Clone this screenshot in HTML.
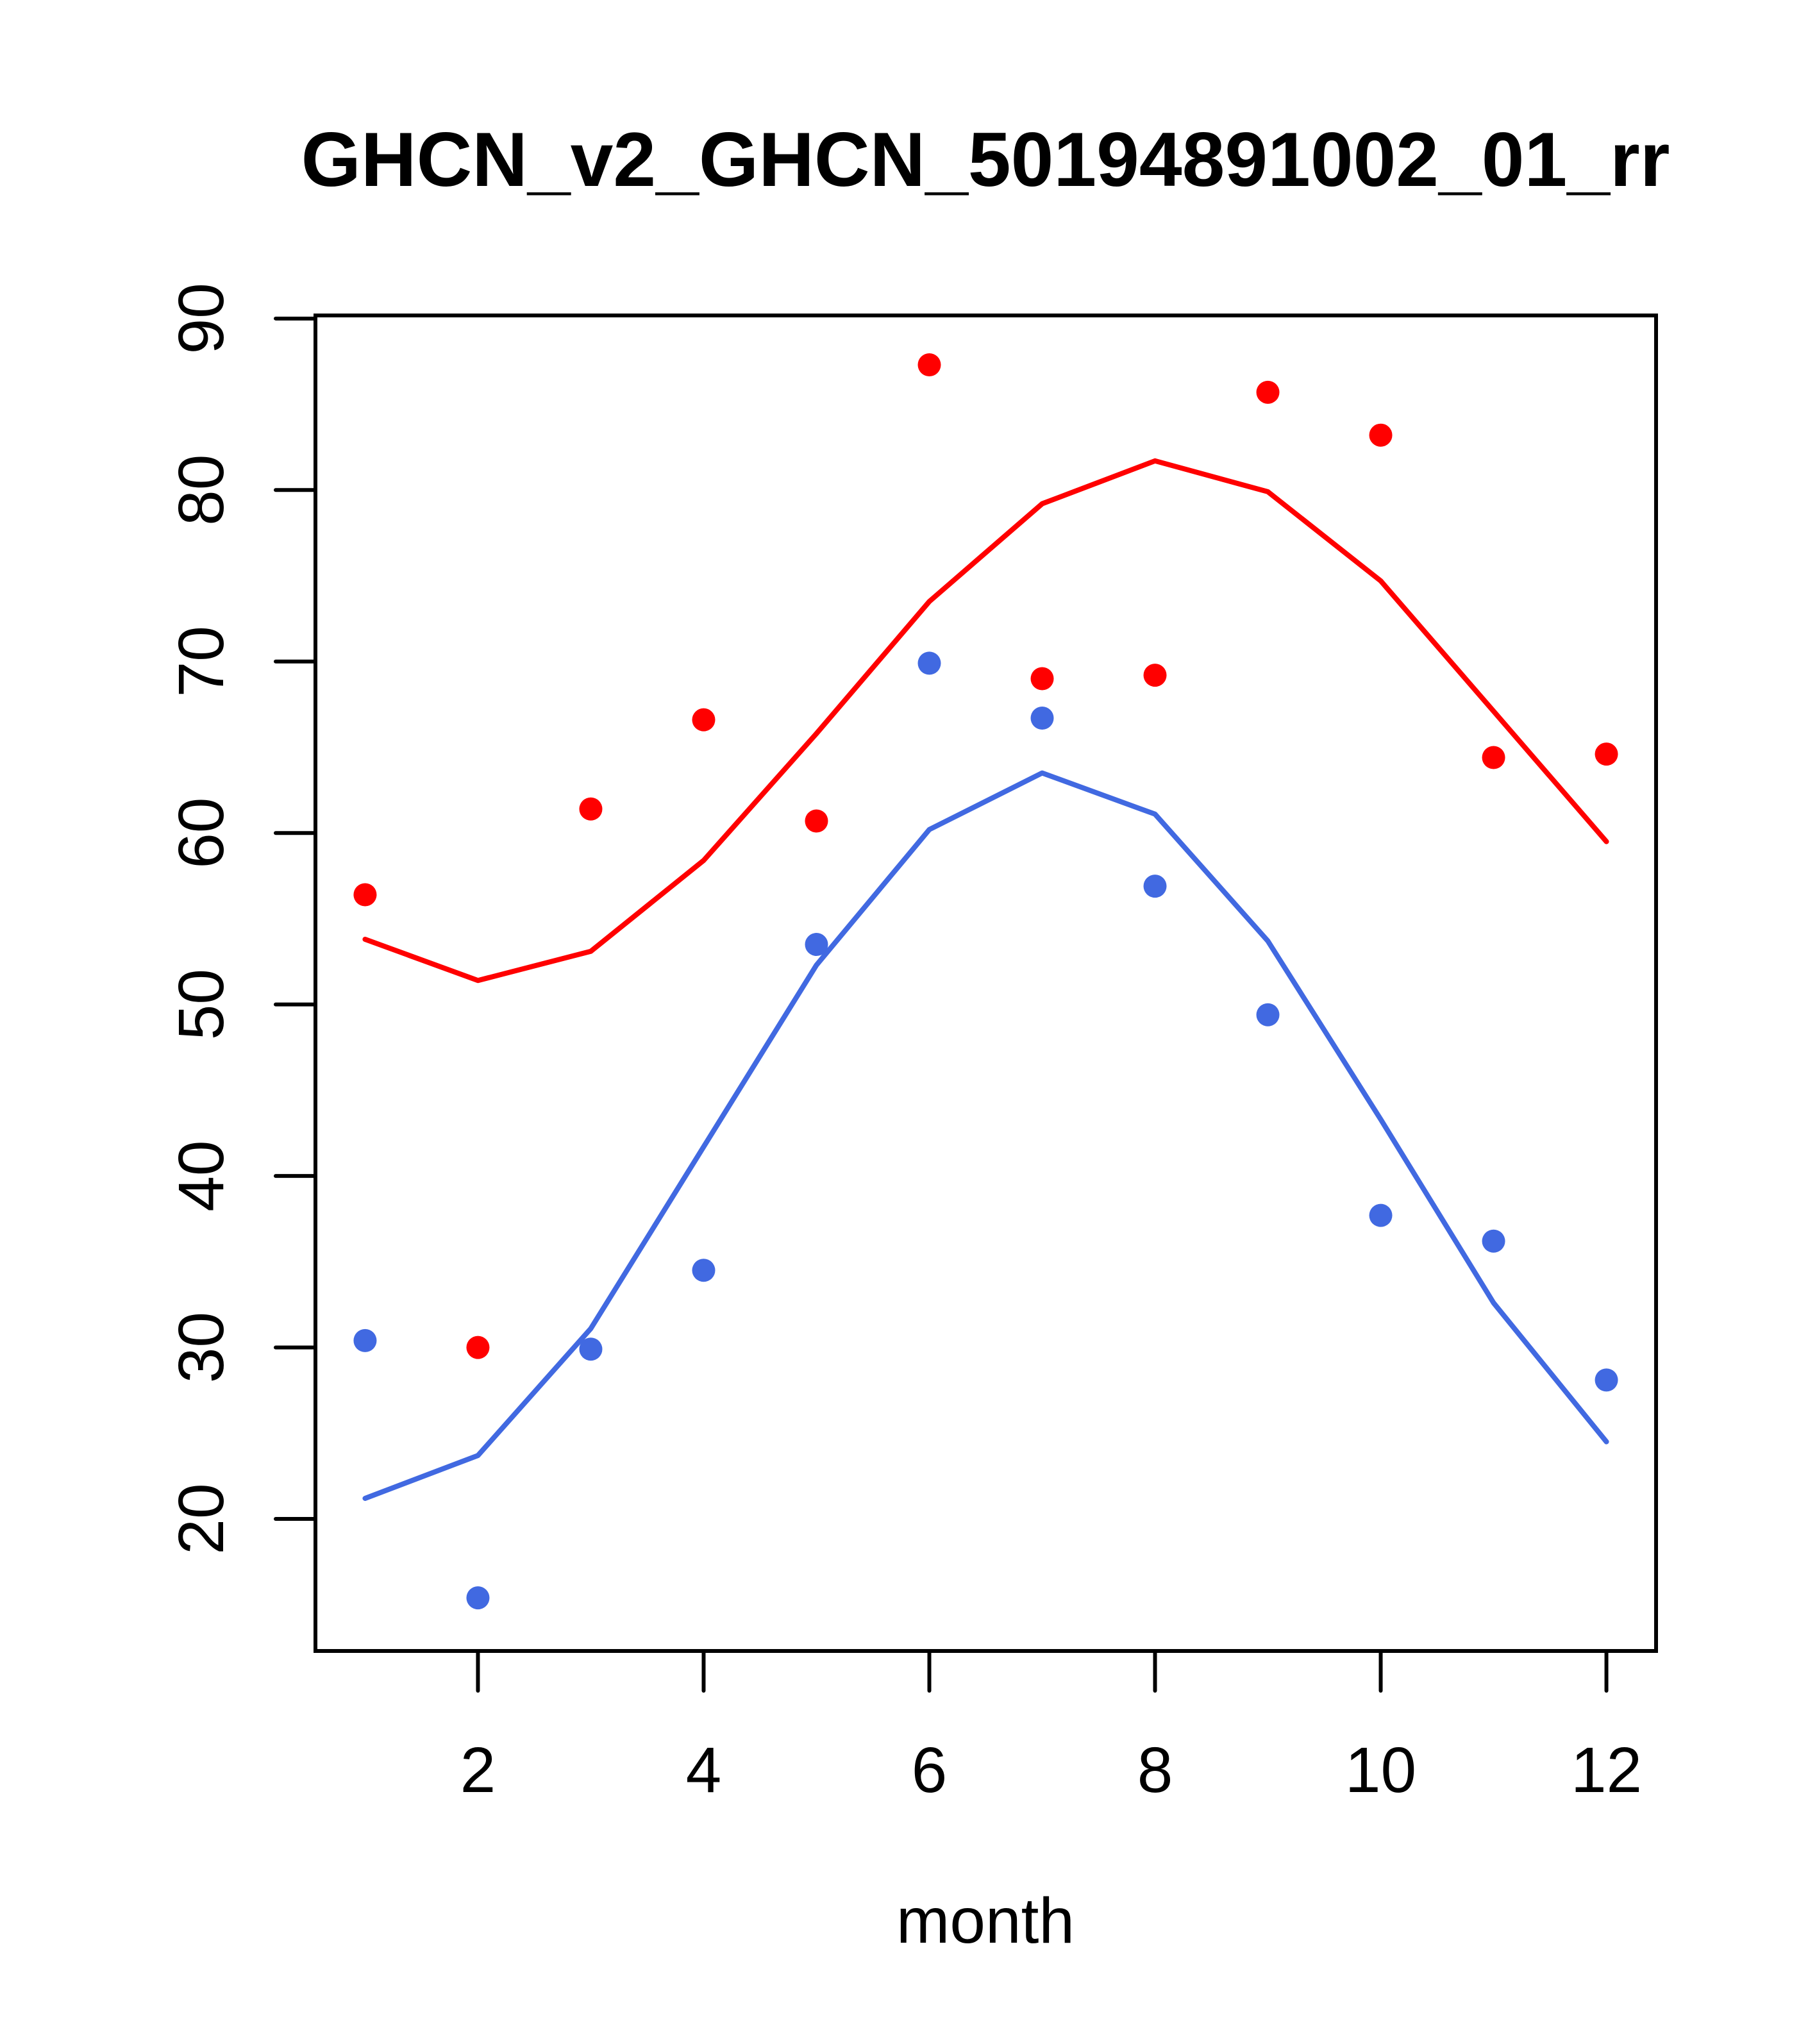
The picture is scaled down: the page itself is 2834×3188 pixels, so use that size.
<!DOCTYPE html>
<html><head><meta charset="utf-8"><style>
html,body{margin:0;padding:0;background:#fff;}
svg{display:block;font-family:"Liberation Sans",Arial,sans-serif;}
</style></head><body>
<svg id="chart" width="2834" height="3188" viewBox="0 0 2834 3188" xmlns="http://www.w3.org/2000/svg">
<rect width="2834" height="3188" fill="#fff"/>
<text x="1537" y="290" text-anchor="middle" font-size="120" font-weight="bold">GHCN_v2_GHCN_50194891002_01_rr</text>
<text x="1537" y="3030" text-anchor="middle" font-size="100">month</text>
<g id="axes"></g>
<g id="series"></g>
<rect x="492" y="492" width="2091" height="2083" fill="none" stroke="#000" stroke-width="6"/>
</svg>
<script>
const months=[1,2,3,4,5,6,7,8,9,10,11,12];
const redPoints=[56.4,30.0,61.4,66.6,60.7,87.3,69.0,69.2,85.7,83.2,64.4,64.6];
const redLine=[53.8,51.4,53.1,58.4,65.8,73.5,79.2,81.7,79.9,74.7,67.1,59.5];
const bluePoints=[30.4,15.4,29.9,34.5,53.5,69.9,66.7,56.9,49.4,37.7,36.2,28.1];
const blueLine=[21.2,23.7,31.1,41.7,52.3,60.2,63.5,61.1,53.7,43.3,32.6,24.5];
const xTicks=[2,4,6,8,10,12];
const yTicks=[20,30,40,50,60,70,80,90];

const NS="http://www.w3.org/2000/svg";
const L=492,R=2583,T=492,B=2575;
const xMin=0.56,xMax=12.44;
const yMin=12.3,yMax=90.18;
const X=v=>L+(v-xMin)/(xMax-xMin)*(R-L);
const Y=v=>B-(v-yMin)/(yMax-yMin)*(B-T);
function mk(tag,attrs,parent){const e=document.createElementNS(NS,tag);for(const k in attrs)e.setAttribute(k,attrs[k]);parent.appendChild(e);return e;}
const axes=document.getElementById('axes');
const series=document.getElementById('series');
xTicks.forEach(t=>{
  const l=mk('line',{x1:X(t),x2:X(t),y1:B,y2:B+62,stroke:'#000','stroke-width':6,'stroke-linecap':'round'},axes);
  
  
  const tx=mk('text',{x:X(t),y:2795,'text-anchor':'middle','font-size':100},axes);
  tx.textContent=t;
  
  
});
yTicks.forEach(t=>{
  const l=mk('line',{x1:L-62,x2:L,y1:Y(t),y2:Y(t),stroke:'#000','stroke-width':6,'stroke-linecap':'round'},axes);
  
  
  const tx=mk('text',{x:0,y:0,'text-anchor':'middle','font-size':100,transform:`translate(348,${Y(t)}) rotate(-90)`},axes);
  tx.textContent=t;
  
  
});
function drawLine(vals,color,name){
  const p=mk('polyline',{points:months.map((m,i)=>X(m)+','+Y(vals[i])).join(' '),fill:'none',stroke:color,'stroke-width':8,'stroke-linejoin':'round','stroke-linecap':'round'},series);
  
  
}
function drawPts(vals,color,name){
  months.forEach((m,i)=>{
    const c=mk('circle',{cx:X(m),cy:Y(vals[i]),r:18,fill:color},series);
    
    
  });
}
drawLine(redLine,'#ff0000','red-line');
drawLine(blueLine,'#4169e1','blue-line');
drawPts(redPoints,'#ff0000','red-point');
drawPts(bluePoints,'#4169e1','blue-point');
</script>
</body></html>
